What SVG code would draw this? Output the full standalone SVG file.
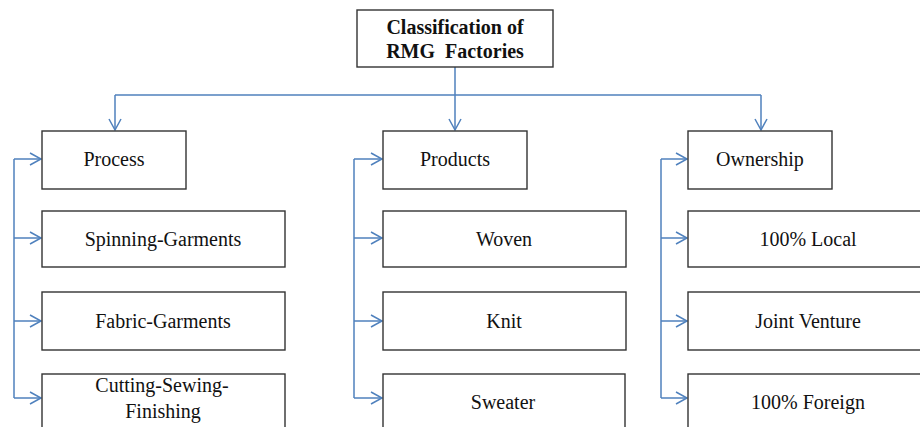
<svg xmlns="http://www.w3.org/2000/svg" width="920" height="427" viewBox="0 0 920 427">
  <style>
    .box { fill: #ffffff; stroke: #333333; stroke-width: 1.4; }
    .link { fill: none; stroke: #4F81BD; stroke-width: 1.5; }
  </style>
  <defs>
    <marker id="chev" markerUnits="userSpaceOnUse" markerWidth="16" markerHeight="16" refX="12" refY="7" orient="auto">
      <path d="M1,1 L12,7 L1,13" fill="none" stroke="#4F81BD" stroke-width="1.5"/>
    </marker>
  </defs>
  <rect width="920" height="427" fill="#ffffff"/>

  <g id="connectors">
    <!-- root to category headers -->
    <line class="link" x1="455" y1="67" x2="455" y2="95"/>
    <line class="link" x1="115" y1="95" x2="761" y2="95"/>
    <line class="link" x1="115" y1="95" x2="115" y2="130" marker-end="url(#chev)"/>
    <line class="link" x1="455" y1="95" x2="455" y2="130" marker-end="url(#chev)"/>
    <line class="link" x1="761" y1="95" x2="761" y2="130" marker-end="url(#chev)"/>
    <!-- Process rail -->
    <line class="link" x1="14" y1="159" x2="14" y2="398"/>
    <line class="link" x1="14" y1="159" x2="41" y2="159" marker-end="url(#chev)"/>
    <line class="link" x1="14" y1="238" x2="41" y2="238" marker-end="url(#chev)"/>
    <line class="link" x1="14" y1="321" x2="41" y2="321" marker-end="url(#chev)"/>
    <line class="link" x1="14" y1="398" x2="41" y2="398" marker-end="url(#chev)"/>
    <!-- Products rail -->
    <line class="link" x1="354" y1="159" x2="354" y2="398"/>
    <line class="link" x1="354" y1="159" x2="382" y2="159" marker-end="url(#chev)"/>
    <line class="link" x1="354" y1="238" x2="382" y2="238" marker-end="url(#chev)"/>
    <line class="link" x1="354" y1="321" x2="382" y2="321" marker-end="url(#chev)"/>
    <line class="link" x1="354" y1="398" x2="382" y2="398" marker-end="url(#chev)"/>
    <!-- Ownership rail -->
    <line class="link" x1="661" y1="159" x2="661" y2="398"/>
    <line class="link" x1="661" y1="159" x2="687" y2="159" marker-end="url(#chev)"/>
    <line class="link" x1="661" y1="238" x2="687" y2="238" marker-end="url(#chev)"/>
    <line class="link" x1="661" y1="321" x2="687" y2="321" marker-end="url(#chev)"/>
    <line class="link" x1="661" y1="398" x2="687" y2="398" marker-end="url(#chev)"/>
  </g>

  <g id="nodes" font-family="Liberation Serif" font-size="20" fill="#111111" text-anchor="middle">
    <g id="root">
      <rect class="box" x="357" y="10" width="196" height="57"/>
      <text x="455" y="34" font-weight="bold">Classification of</text>
      <text x="455" y="58" font-weight="bold" xml:space="preserve">RMG  Factories</text>
    </g>

    <g id="process">
      <rect class="box" x="42" y="131" width="144" height="58"/>
      <text x="114" y="166">Process</text>
    </g>
    <g id="spinning-garments">
      <rect class="box" x="42" y="211" width="243" height="56"/>
      <text x="163" y="246">Spinning-Garments</text>
    </g>
    <g id="fabric-garments">
      <rect class="box" x="42" y="292" width="243" height="58"/>
      <text x="163" y="328">Fabric-Garments</text>
    </g>
    <g id="cutting-sewing-finishing">
      <rect class="box" x="42" y="374" width="243" height="70"/>
      <text x="162" y="392">Cutting-Sewing-</text>
      <text x="163" y="418">Finishing</text>
    </g>

    <g id="products">
      <rect class="box" x="383" y="131" width="144" height="58"/>
      <text x="455" y="166">Products</text>
    </g>
    <g id="woven">
      <rect class="box" x="383" y="211" width="243" height="56"/>
      <text x="504" y="246">Woven</text>
    </g>
    <g id="knit">
      <rect class="box" x="383" y="292" width="243" height="58"/>
      <text x="504" y="328">Knit</text>
    </g>
    <g id="sweater">
      <rect class="box" x="383" y="374" width="242" height="70"/>
      <text x="503" y="409">Sweater</text>
    </g>

    <g id="ownership">
      <rect class="box" x="688" y="131" width="144" height="58"/>
      <text x="760" y="166">Ownership</text>
    </g>
    <g id="local">
      <rect class="box" x="688" y="211" width="243" height="56"/>
      <text x="808" y="246">100% Local</text>
    </g>
    <g id="joint-venture">
      <rect class="box" x="688" y="292" width="243" height="58"/>
      <text x="808" y="328">Joint Venture</text>
    </g>
    <g id="foreign">
      <rect class="box" x="688" y="374" width="243" height="70"/>
      <text x="808" y="409">100% Foreign</text>
    </g>
  </g>
</svg>
